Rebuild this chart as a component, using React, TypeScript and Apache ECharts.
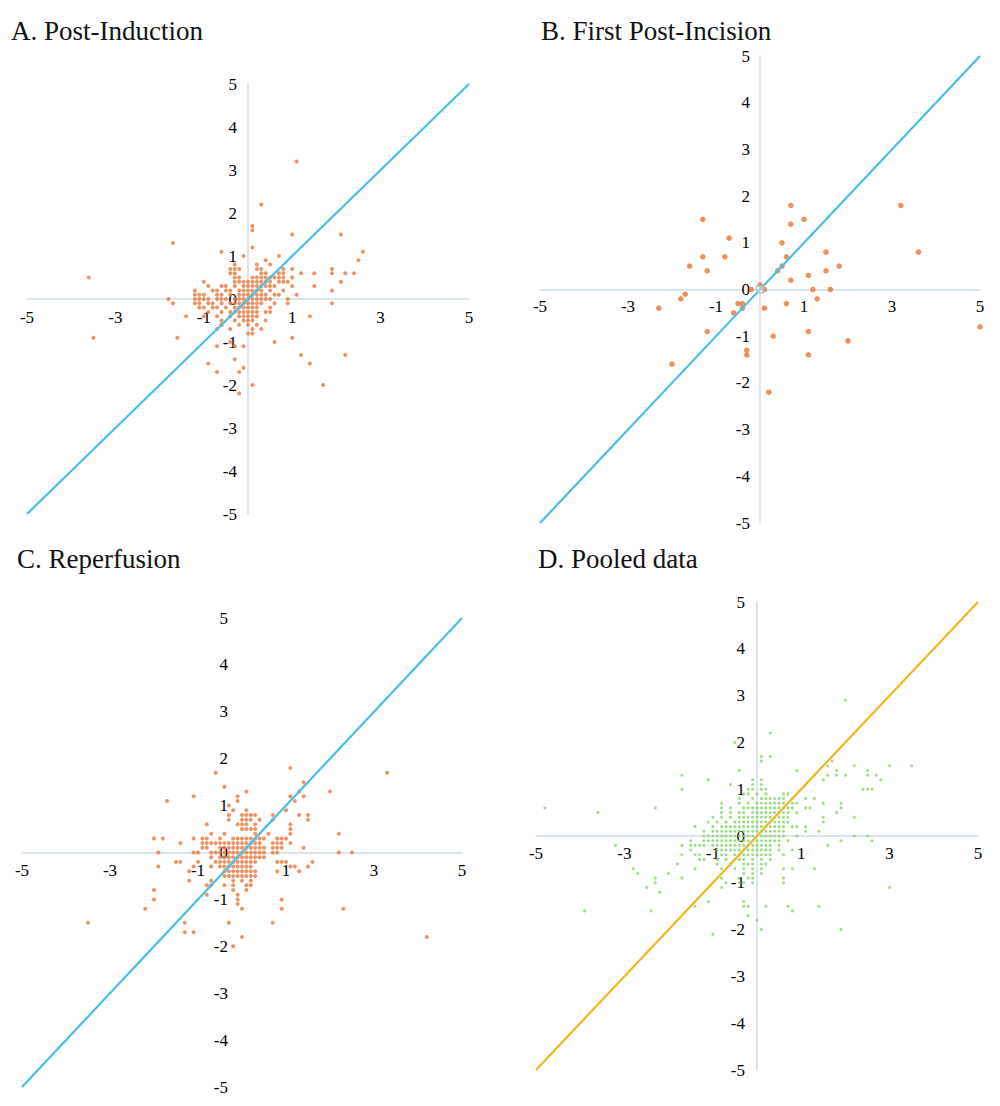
import React, { useEffect, useRef } from "react";
import * as echarts from "echarts";

type Pt = [number, number];
// A row of a dense cluster: [y value, x values sharing that y]
type Row = [number, number[]];

const panelTitles = ["A. Post-Induction", "B. First Post-Incision", "C. Reperfusion", "D. Pooled data"];
const xTickValues = [-5, -3, -1, 1, 3, 5];
const yTickValues = [-5, -4, -3, -2, -1, 0, 1, 2, 3, 4, 5];
const identityLine: Pt[] = [[-5, -5], [5, 5]];

// ---- A. Post-Induction ----
const postInductionCore: Row[] = [
  [0.8, [-0.3]],
  [0.7, [-0.4, -0.3, -0.2, 0.2, 0.3, 0.8]],
  [0.6, [-0.4, -0.3, 0.3, 0.4, 0.7, 0.8]],
  [0.5, [-0.3, -0.2, 0.1, 0.2, 0.3, 0.4, 0.5, 0.6, 0.7, 0.8, 1.0]],
  [0.4, [-1.0, -0.3, -0.2, -0.1, 0.0, 0.1, 0.2, 0.3, 0.4, 0.5, 0.7, 0.8, 0.9]],
  [0.3, [-0.9, -0.6, -0.5, -0.3, -0.1, 0.0, 0.1, 0.2, 0.3, 0.4, 0.5, 0.6]],
  [0.2, [-1.2, -0.8, -0.7, -0.5, -0.4, -0.2, -0.1, 0.0, 0.1, 0.2, 0.3, 0.5, 0.8]],
  [0.1, [-1.2, -1.1, -1.0, -0.7, -0.6, -0.4, -0.2, -0.1, 0.0, 0.1, 0.2, 0.3, 0.4, 0.6, 0.7]],
  [0.0, [-1.2, -1.1, -1.0, -0.9, -0.7, -0.6, -0.5, -0.3, -0.2, -0.1, 0.0, 0.1, 0.2, 0.3, 0.4, 0.5]],
  [-0.1, [-1.2, -1.1, -0.9, -0.8, -0.6, -0.4, -0.3, -0.2, -0.1, 0.0, 0.1, 0.2, 0.3, 0.6]],
  [-0.2, [-1.1, -1.0, -0.8, -0.7, -0.5, -0.3, -0.2, -0.1, 0.0, 0.1, 0.2, 0.5]],
  [-0.3, [-0.9, -0.6, -0.4, -0.3, -0.2, -0.1, 0.0, 0.1, 0.2, 0.4, 0.5]],
  [-0.4, [-1.0, -0.7, -0.4, -0.2, -0.1, 0.0, 0.1, 0.2]],
  [-0.5, [-0.6, -0.3, -0.1, 0.0, 0.1, 0.4]],
  [-0.6, [-0.6, -0.2, 0.0, 0.2]],
];
const postInductionSpread: Pt[] = [
  [1.1, 3.2], [0.3, 2.2], [0.1, 1.7], [0.1, 1.6], [-1.7, 1.3], [1.0, 1.5], [2.1, 1.5], [0.1, 1.2],
  [-0.6, 1.1], [-0.1, 1.0], [0.7, 1.0], [2.6, 1.1], [2.5, 0.9], [-3.6, 0.5], [-3.5, -0.9], [-1.8, 0.0],
  [-1.7, -0.1], [-1.4, -0.4], [-1.6, -0.9], [0.4, 0.9], [0.2, 0.8], [0.5, 0.8], [1.0, 0.7], [1.2, 0.6],
  [1.5, 0.6], [1.9, 0.7], [1.9, 0.6], [2.2, 0.6], [2.4, 0.6], [2.1, 0.4], [1.5, 0.3], [1.0, 0.3],
  [1.9, 0.2], [1.9, -0.1], [1.1, 0.1], [0.9, 0.0], [0.9, -0.1], [1.4, -0.4], [1.0, -0.9], [0.6, -1.0],
  [1.2, -1.3], [1.4, -1.5], [2.2, -1.3], [1.7, -2.0], [0.1, -2.0], [-0.2, -2.2], [-0.2, -1.7],
  [-0.1, -1.6], [-0.7, -1.7], [-0.9, -1.5], [-0.3, -1.4], [-0.7, -1.1], [-0.3, -1.1], [-0.1, -1.1],
  [-0.4, -1.0], [0.1, -0.8], [0.0, -0.8], [0.1, -0.7], [0.3, -0.7], [-0.7, -0.7], [-0.4, -0.7],
  [-0.6, -0.6],
];

// ---- B. First Post-Incision ----
const firstIncisionPoints: Pt[] = [
  [0.7, 1.8], [3.2, 1.8], [-1.3, 1.5], [1.0, 1.5], [0.7, 1.4], [-0.7, 1.1], [0.5, 1.0], [-1.3, 0.7],
  [-0.8, 0.7], [0.6, 0.7], [1.5, 0.8], [3.6, 0.8], [-1.6, 0.5], [0.5, 0.5], [1.8, 0.5], [-1.2, 0.4],
  [0.4, 0.4], [1.5, 0.4], [1.1, 0.3], [0.7, 0.2], [0.0, 0.1], [-0.2, 0.0], [0.1, 0.0], [1.2, 0.0],
  [1.6, 0.0], [-1.7, -0.1], [-1.8, -0.2], [1.3, -0.2], [-2.3, -0.4], [-0.5, -0.3], [-0.4, -0.3],
  [-0.4, -0.4], [0.1, -0.4], [0.6, -0.3], [-0.6, -0.5], [-1.2, -0.9], [1.1, -0.9], [0.3, -1.0],
  [5.0, -0.8], [2.0, -1.1], [-0.3, -1.3], [-0.3, -1.4], [1.1, -1.4], [-2.0, -1.6], [0.2, -2.2],
];
const firstIncisionOrigin: Pt[] = [[0, 0]];

// ---- C. Reperfusion ----
const reperfusionCore: Row[] = [
  [0.9, [-0.2, 0.1, 1.0]],
  [0.8, [-0.3, 0.0, 0.1, 0.2, 0.3, 0.7]],
  [0.7, [-0.3, 0.0, 0.1, 0.2, 0.4, 0.7]],
  [0.6, [-0.8, -0.1, 0.0, 0.1, 0.3, 1.1]],
  [0.5, [0.0, 0.1, 0.2, 0.3, 1.1]],
  [0.4, [-0.7, -0.4, 0.3, 0.6, 1.1]],
  [0.3, [-2.0, -1.8, -1.1, -0.9, -0.8, -0.5, -0.2, -0.1, 0.0, 0.1, 0.2, 0.3, 0.4, 0.5, 0.8, 0.9, 1.0]],
  [0.2, [-1.4, -0.9, -0.8, -0.7, -0.6, -0.5, -0.4, -0.3, -0.2, -0.1, 0.0, 0.1, 0.2, 0.3, 0.4, 0.7, 0.8, 0.9, 1.1]],
  [0.1, [-0.9, -0.8, -0.5, -0.4, -0.3, -0.2, -0.1, 0.0, 0.1, 0.2, 0.3, 0.4, 0.5, 0.7, 0.8, 0.9, 1.4]],
  [0.0, [-1.9, -1.1, -1.0, -0.7, -0.6, -0.5, -0.4, -0.3, -0.2, -0.1, 0.0, 0.1, 0.2, 0.3, 0.4, 0.5, 0.7, 0.8]],
  [-0.1, [-0.7, -0.5, -0.4, -0.3, -0.2, -0.1, 0.0, 0.1, 0.2, 0.3, 0.4, 0.5]],
  [-0.2, [-1.5, -1.4, -1.0, -0.6, -0.5, -0.4, -0.3, -0.2, -0.1, 0.0, 0.1, 0.2, 0.3, 0.8, 0.9, 1.0, 1.6]],
  [-0.3, [-1.9, -1.1, -0.7, -0.5, -0.4, -0.3, -0.2, -0.1, 0.0, 0.1, 0.2, 1.1, 1.2, 1.5]],
  [-0.4, [-1.2, -0.4, -0.3, -0.2, -0.1, 0.0, 0.1, 0.2, 0.3, 0.8, 1.3]],
  [-0.5, [-0.4, -0.3, -0.2, -0.1, 0.0, 0.1, 0.2, 0.3]],
  [-0.6, [-1.2, -0.7, -0.2, 0.0, 0.2]],
  [-0.7, [-0.8, -0.7, -0.4, -0.2, 0.1, 0.2]],
  [-0.8, [-2.0, -0.2, 0.1]],
];
const reperfusionSpread: Pt[] = [
  [1.1, 1.8], [3.3, 1.7], [-0.6, 1.7], [-0.4, 1.4], [1.4, 1.5], [1.3, 1.3], [2.0, 1.3], [0.1, 1.3],
  [-0.1, 1.2], [-0.1, 1.1], [-1.1, 1.2], [-1.7, 1.1], [1.1, 1.2], [1.2, 1.1], [1.4, 1.2], [-0.3, 1.0],
  [1.3, 0.8], [1.5, 0.8], [1.5, 0.7], [2.2, 0.4], [2.2, 0.0], [2.5, 0.0], [-2.0, -1.0], [-2.2, -1.2],
  [-3.5, -1.5], [-1.3, -1.5], [-1.3, -1.7], [-1.1, -1.7], [-0.8, -0.9], [-0.3, -1.5], [-0.1, -0.9],
  [-0.1, -1.0], [-0.1, -1.1], [0.0, -1.2], [0.0, -1.8], [-0.2, -2.0], [0.7, -1.5], [0.9, -1.0],
  [0.9, -1.2], [2.3, -1.2], [4.2, -1.8],
];

// ---- D. Pooled data ----
const pooledCore: Row[] = [
  [1.7, [0.1, 0.3]],
  [1.6, [0.1]],
  [1.4, [-0.4]],
  [1.2, [-1.1, -0.1, 0.1]],
  [1.1, [-0.6, -0.1, 0.1]],
  [1.0, [-1.7, -0.2, -0.1, 0.1, 0.2]],
  [0.9, [-0.3, -0.2, 0.0, 0.2, 0.6, 0.7]],
  [0.8, [-0.4, -0.1, 0.1, 0.2, 0.3, 0.4, 0.5, 0.6, 0.8]],
  [0.7, [-0.8, -0.4, -0.2, 0.0, 0.1, 0.2, 0.3, 0.4, 0.5, 0.6, 0.8, 0.9]],
  [0.6, [-0.8, -0.6, -0.3, -0.2, -0.1, 0.0, 0.1, 0.2, 0.3, 0.4, 0.5, 0.6, 0.7, 0.8]],
  [0.5, [-0.8, -0.6, -0.4, -0.3, -0.1, 0.0, 0.1, 0.2, 0.3, 0.4, 0.5, 0.6, 0.7, 0.9]],
  [0.4, [-1.0, -0.8, -0.6, -0.4, -0.3, -0.2, -0.1, 0.0, 0.1, 0.2, 0.3, 0.4, 0.5, 0.6, 0.7]],
  [0.3, [-1.1, -0.9, -0.7, -0.5, -0.4, -0.3, -0.2, -0.1, 0.0, 0.1, 0.2, 0.3, 0.4, 0.5, 0.6, 0.7]],
  [0.2, [-1.4, -1.0, -0.8, -0.7, -0.6, -0.5, -0.4, -0.3, -0.2, -0.1, 0.0, 0.1, 0.2, 0.3, 0.4, 0.5, 0.6, 0.8, 0.9]],
  [0.1, [-1.2, -1.0, -0.9, -0.8, -0.7, -0.6, -0.5, -0.4, -0.3, -0.2, -0.1, 0.0, 0.1, 0.2, 0.3, 0.4, 0.5, 0.6]],
  [0.0, [-1.2, -1.1, -1.0, -0.9, -0.8, -0.7, -0.6, -0.5, -0.4, -0.3, -0.2, -0.1, 0.1, 0.2, 0.3, 0.4, 0.5, 0.6, 0.9]],
  [-0.1, [-1.5, -1.2, -1.1, -1.0, -0.9, -0.8, -0.7, -0.6, -0.5, -0.4, -0.3, -0.2, -0.1, 0.0, 0.1, 0.2, 0.3, 0.4, 0.5, 0.7]],
  [-0.2, [-1.7, -1.4, -1.3, -1.2, -1.0, -0.9, -0.8, -0.7, -0.6, -0.5, -0.4, -0.3, -0.2, -0.1, 0.0, 0.1, 0.2, 0.3, 0.5]],
  [-0.3, [-1.5, -0.9, -0.8, -0.7, -0.6, -0.5, -0.4, -0.3, -0.2, -0.1, 0.0, 0.1, 0.2, 0.3, 0.5, 0.8]],
  [-0.4, [-0.8, -0.7, -0.5, -0.4, -0.3, -0.2, -0.1, 0.0, 0.1, 0.2, 0.3, 0.6]],
  [-0.5, [-0.9, -0.7, -0.4, -0.3, -0.1, 0.1, 0.3]],
  [-0.6, [-0.9, -0.6, -0.3, -0.2, -0.1, 0.1, 0.2]],
  [-0.7, [-0.8, -0.5, -0.3, -0.1, 0.1, 0.6]],
  [-0.8, [-0.3, -0.1, 0.1]],
  [-0.9, [-0.4, -0.2, -0.1]],
  [-1.0, [-0.4, -0.3, -0.1]],
];
const pooledSpread: Pt[] = [
  [2.0, 2.9], [0.3, 2.2], [-0.5, 2.0], [-1.7, 1.3], [0.9, 1.4], [1.3, 1.3], [1.5, 1.2], [1.6, 1.5],
  [1.7, 1.6], [1.6, 1.3], [1.8, 1.4], [1.8, 1.3], [2.0, 1.3], [2.2, 1.5], [2.5, 1.4], [2.5, 1.3],
  [2.7, 1.3], [2.8, 1.2], [3.0, 1.5], [3.5, 1.5], [2.4, 1.0], [2.5, 1.0], [2.6, 1.0], [1.9, 0.7],
  [1.9, 0.6], [1.8, 0.5], [1.5, 0.7], [1.5, 0.4], [1.5, 0.3], [1.4, 0.1], [1.3, 0.8], [1.1, 0.8],
  [1.1, 0.6], [1.2, 0.6], [1.1, 0.2], [1.1, 0.1], [2.2, 0.4], [2.2, 0.0], [2.5, 0.0], [2.6, -0.1],
  [1.9, -0.1], [1.6, -0.2], [3.0, -1.1], [1.9, -2.0], [1.4, -1.5], [0.7, -1.5], [0.8, -1.6],
  [0.2, -1.5], [0.1, -2.0], [-1.0, -2.1], [0.0, -1.8], [-0.2, -1.5], [-0.2, -1.7], [-0.3, -1.4],
  [-0.3, -1.5], [-1.1, -1.4], [-1.4, -1.5], [-2.4, -1.6], [-3.9, -1.6], [-2.5, -1.1], [-2.3, -0.9],
  [-2.3, -1.0], [-2.2, -1.2], [-2.8, -0.7], [-2.7, -0.8], [-3.2, -0.2], [-2.0, -0.8], [-1.8, -0.6],
  [-1.7, -0.4], [-1.7, -0.9], [-1.5, -0.2], [-1.4, -0.4], [-1.3, -0.4], [-1.2, -0.5], [-1.4, -0.7],
  [-1.3, -0.5], [-0.8, -0.9], [-0.8, -1.1], [-0.7, -1.0], [0.6, -0.9], [0.6, -1.0], [0.8, -0.7],
  [1.3, -0.7], [-4.8, 0.6], [-3.6, 0.5], [-2.3, 0.6],
];

const expandRows = (rows: Row[]): Pt[] =>
  rows.flatMap(([y, xs]) => xs.map((x) => [x, y] as Pt));

const FONT = "'Liberation Serif', 'Times New Roman', serif";
const AXIS_COLOR = "#cfdde8";

interface PanelStyle {
  grid: { left: number; top: number; width: number; height: number };
  titleX: number;
  titleY: number;
  dotColor: string;
  dotSize: number;
  lineColor: string;
  showYAxisLine: boolean;
  yLabelMargin: number;
  xLabelMargin: number;
}

const panelStyles: PanelStyle[] = [
  { grid: { left: 27, top: 84, width: 442, height: 430 }, titleX: 11, titleY: 31, dotColor: "#e8773c", dotSize: 4, lineColor: "#47bfe9", showYAxisLine: true, yLabelMargin: 11, xLabelMargin: 10 },
  { grid: { left: 540, top: 56, width: 440, height: 467 }, titleX: 541, titleY: 31, dotColor: "#e6752f", dotSize: 5.5, lineColor: "#47bfe9", showYAxisLine: true, yLabelMargin: 10, xLabelMargin: 8 },
  { grid: { left: 22, top: 618, width: 440, height: 469 }, titleX: 17, titleY: 559, dotColor: "#e8773c", dotSize: 4, lineColor: "#47bfe9", showYAxisLine: false, yLabelMargin: 14, xLabelMargin: 9 },
  { grid: { left: 536, top: 602, width: 442, height: 468 }, titleX: 538, titleY: 559, dotColor: "#80d662", dotSize: 3, lineColor: "#f0b723", showYAxisLine: true, yLabelMargin: 12, xLabelMargin: 9 },
];

const panelPoints: Pt[][] = [
  [...expandRows(postInductionCore), ...postInductionSpread],
  firstIncisionPoints,
  [...expandRows(reperfusionCore), ...reperfusionSpread],
  [...expandRows(pooledCore), ...pooledSpread],
];

function buildOption(): echarts.EChartsCoreOption {
  const labelStyle = { fontFamily: FONT, fontSize: 17, color: "#000" };
  const grid = panelStyles.map((p) => ({ ...p.grid, containLabel: false }));
  // Both axes cross at the origin: the ranges are symmetric, so each axis is
  // shifted inward by half the grid size (line and labels move together).
  const xAxis = panelStyles.map((p, i) => ({
    gridIndex: i,
    type: "value",
    position: "bottom",
    offset: -p.grid.height / 2,
    min: -5,
    max: 5,
    interval: 1,
    splitLine: { show: false },
    axisTick: { show: false },
    axisLine: { onZero: false, lineStyle: { color: AXIS_COLOR, width: 1.5 } },
    axisLabel: {
      ...labelStyle,
      margin: p.xLabelMargin,
      formatter: (v: number) => (xTickValues.includes(v) ? String(v) : ""),
    },
  }));
  const yAxis = panelStyles.map((p, i) => ({
    gridIndex: i,
    type: "value",
    position: "left",
    offset: -p.grid.width / 2,
    min: -5,
    max: 5,
    interval: 1,
    splitLine: { show: false },
    axisTick: { show: false },
    axisLine: {
      show: true,
      onZero: false,
      lineStyle: { color: AXIS_COLOR, width: 1.5, opacity: p.showYAxisLine ? 1 : 0 },
    },
    axisLabel: {
      ...labelStyle,
      margin: p.yLabelMargin,
      formatter: (v: number) => (yTickValues.includes(v) ? String(v) : ""),
    },
  }));

  const series: any[] = [];
  panelStyles.forEach((p, i) => {
    series.push({
      type: "scatter",
      xAxisIndex: i,
      yAxisIndex: i,
      data: panelPoints[i],
      symbol: "circle",
      symbolSize: p.dotSize,
      itemStyle: { color: p.dotColor },
      silent: true,
      z: 2,
    });
    if (i === 1) {
      series.push({
        type: "scatter",
        xAxisIndex: i,
        yAxisIndex: i,
        data: firstIncisionOrigin,
        symbol: "rect",
        symbolSize: 7,
        itemStyle: { color: "rgba(255,255,255,0.4)", borderColor: "#a9bccb", borderWidth: 1.5 },
        silent: true,
        z: 4,
      });
    }
    series.push({
      type: "line",
      xAxisIndex: i,
      yAxisIndex: i,
      data: identityLine,
      showSymbol: false,
      symbol: "none",
      lineStyle: { color: p.lineColor, width: 2.2 },
      silent: true,
      z: 3,
    });
  });

  const graphic = panelStyles.map((p, i) => ({
    type: "text",
    x: p.titleX,
    y: p.titleY,
    style: {
      text: panelTitles[i],
      fontFamily: FONT,
      fontSize: 27,
      fill: "#111",
      verticalAlign: "middle",
    },
  }));

  return {
    animation: false,
    backgroundColor: "#ffffff",
    grid,
    xAxis,
    yAxis,
    series,
    graphic,
  };
}

export default function App() {
  const ref = useRef<HTMLDivElement>(null);
  useEffect(() => {
    if (!ref.current) return;
    const chart = echarts.init(ref.current, undefined, { renderer: "svg" });
    chart.setOption(buildOption());
    return () => chart.dispose();
  }, []);
  return (
    <div
      ref={ref}
      style={{ position: "absolute", left: 0, top: 0, width: 1000, height: 1106, background: "#fff" }}
    />
  );
}
